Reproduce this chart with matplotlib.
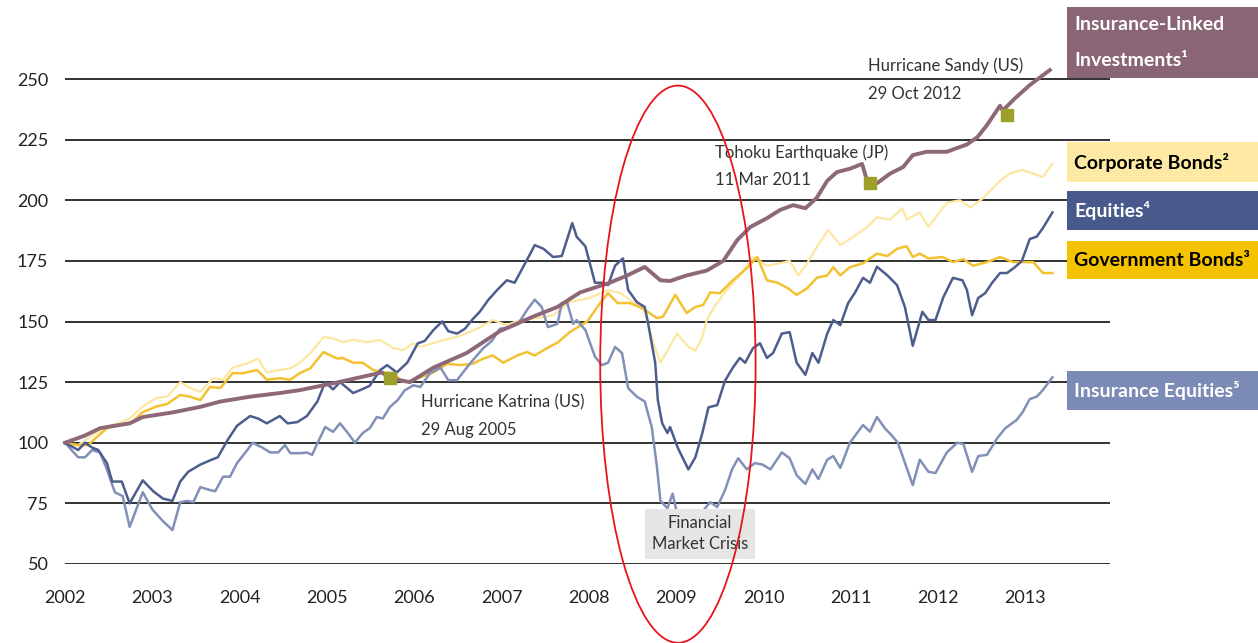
import matplotlib
matplotlib.use("Agg")
import matplotlib.pyplot as plt
from matplotlib.patches import Ellipse, Rectangle

plt.rcParams["font.family"] = ["Lato", "DejaVu Sans"]

YEAR_TICKS = list(range(2002, 2014))
Y_TICKS = [50, 75, 100, 125, 150, 175, 200, 225, 250]

# Equities (turning points)
eq_x = [2002.00, 2002.15, 2002.23, 2002.31, 2002.38, 2002.48, 2002.54, 2002.65, 2002.74, 2002.89,
        2003.01, 2003.12, 2003.23, 2003.32, 2003.41, 2003.55, 2003.68, 2003.75, 2003.86, 2003.97,
        2004.12, 2004.21, 2004.31, 2004.46, 2004.55, 2004.66, 2004.77, 2004.89, 2004.98,
        2005.07, 2005.15, 2005.30, 2005.40, 2005.49, 2005.61, 2005.69, 2005.80, 2005.92,
        2006.04, 2006.12, 2006.22, 2006.32, 2006.39, 2006.49, 2006.58, 2006.66, 2006.75, 2006.85, 2006.95,
        2007.06, 2007.15, 2007.27, 2007.38, 2007.48, 2007.59, 2007.69, 2007.81, 2007.86, 2007.96,
        2008.07, 2008.16, 2008.22, 2008.30, 2008.39, 2008.45, 2008.55, 2008.64, 2008.68, 2008.76,
        2008.79, 2008.84, 2008.90, 2008.93, 2009.02, 2009.14, 2009.22, 2009.30, 2009.37, 2009.47,
        2009.56, 2009.65, 2009.73, 2009.79, 2009.88, 2009.96, 2010.04, 2010.11, 2010.21, 2010.30,
        2010.38, 2010.48, 2010.56, 2010.63, 2010.73, 2010.80, 2010.88, 2010.97, 2011.05, 2011.14,
        2011.22, 2011.30, 2011.42, 2011.53, 2011.62, 2011.71, 2011.82, 2011.89, 2011.97,
        2012.06, 2012.17, 2012.28, 2012.33, 2012.39, 2012.46, 2012.54, 2012.62, 2012.71, 2012.79,
        2012.88, 2012.96, 2013.05, 2013.13, 2013.20, 2013.31]
eq_y = [100, 97, 100, 98, 97, 91.6, 84, 84, 75, 84.5,
        80, 77, 76, 84, 88, 91, 93, 94, 101, 107,
        111, 110, 108, 111, 108, 108.5, 111, 117, 125,
        122, 125, 120.5, 122, 123.5, 130, 132, 129, 133,
        141, 142, 146.5, 150, 146, 145, 147, 150.6, 154, 159, 163,
        167, 166, 174, 181.5, 180, 176.6, 177, 190.6, 185, 181,
        166, 166, 165, 173, 176, 163, 158, 156, 149, 133,
        117.6, 108, 104, 106.5, 97.8, 89, 94, 104, 114.6, 115.5,
        125.6, 131, 135, 133, 139, 141, 135, 137, 145, 145.6,
        133, 128, 137, 133, 145, 150.6, 148.5, 157.6, 162, 168,
        166, 172.6, 169, 165, 156, 140, 154, 150.6, 150.6,
        160, 168, 167, 163, 152.6, 159.7, 161.7, 166, 170, 170,
        172.4, 175, 184, 185, 188.5, 195]

# Insurance equities
ie_x = [2002.00, 2002.15, 2002.23, 2002.31, 2002.40, 2002.48, 2002.57, 2002.66, 2002.74, 2002.89,
        2003.00, 2003.12, 2003.23, 2003.32, 2003.40, 2003.47, 2003.55, 2003.66, 2003.72, 2003.81,
        2003.89, 2003.97, 2004.06, 2004.15, 2004.26, 2004.35, 2004.44, 2004.52, 2004.58, 2004.71,
        2004.77, 2004.83, 2004.92, 2004.98, 2005.07, 2005.15, 2005.24, 2005.32, 2005.41, 2005.49,
        2005.57, 2005.64, 2005.72, 2005.81, 2005.89, 2005.99, 2006.07, 2006.18, 2006.30, 2006.39,
        2006.49, 2006.58, 2006.67, 2006.79, 2006.89, 2006.98, 2007.10, 2007.19, 2007.29, 2007.38,
        2007.46, 2007.53, 2007.64, 2007.69, 2007.75, 2007.82, 2007.86, 2007.96, 2008.07, 2008.15,
        2008.22, 2008.30, 2008.38, 2008.45, 2008.55, 2008.64, 2008.72, 2008.78, 2008.82, 2008.90,
        2008.96, 2009.12, 2009.22, 2009.31, 2009.39, 2009.47, 2009.56, 2009.64, 2009.71, 2009.81,
        2009.90, 2009.99, 2010.08, 2010.21, 2010.30, 2010.38, 2010.48, 2010.56, 2010.63, 2010.73,
        2010.80, 2010.88, 2010.99, 2011.14, 2011.22, 2011.30, 2011.39, 2011.47, 2011.54, 2011.71,
        2011.79, 2011.89, 2011.97, 2012.10, 2012.22, 2012.29, 2012.39, 2012.46, 2012.56, 2012.68,
        2012.77, 2012.90, 2012.97, 2013.05, 2013.13, 2013.20, 2013.31]
ie_y = [100, 94, 94, 97, 96, 89, 79.6, 78, 65.3, 79.6,
        72.5, 67.7, 64, 75.5, 76, 75.5, 81.7, 80.5, 80, 86,
        86, 91.6, 95.7, 100, 98, 96, 96, 99, 95.7, 95.7,
        96, 95, 102, 106.5, 104.5, 108, 104, 100, 104, 106,
        110.6, 110, 114.7, 117.6, 121.6, 123.7, 123, 128.7, 131, 125.8,
        125.8, 130, 134, 139, 142, 147, 147.7, 149, 154.7, 159,
        156, 147.7, 149, 157.6, 158, 149, 150.6, 146.5, 135.5, 132,
        133, 139.5, 137, 122.5, 119, 117, 106.5, 90, 76, 73,
        79, 52.8, 64, 72, 75.5, 73.5, 80.5, 89, 93.6, 89,
        91.6, 91, 89, 96, 93.6, 86.6, 83, 89, 85, 93,
        94.5, 89.6, 100, 107.3, 104.6, 110.6, 106, 103, 100, 82.5,
        93, 88, 87.5, 96, 100, 99.5, 88, 94.5, 95, 102,
        106, 109.4, 112.7, 118, 119, 121.7, 127]

# Insurance-linked investments
ils_x = [2002.00, 2002.23, 2002.40, 2002.74, 2002.89, 2003.23, 2003.55, 2003.78, 2004.12, 2004.46,
         2004.69, 2005.07, 2005.63, 2005.72, 2005.95, 2006.22, 2006.60, 2006.98, 2007.36, 2007.64,
         2007.90, 2008.24, 2008.44, 2008.64, 2008.82, 2008.93, 2009.12, 2009.35, 2009.54, 2009.70,
         2009.85, 2010.04, 2010.19, 2010.34, 2010.48, 2010.61, 2010.73, 2010.84, 2010.99, 2011.13,
         2011.19, 2011.30, 2011.45, 2011.60, 2011.71, 2011.87, 2012.10, 2012.33, 2012.45, 2012.56,
         2012.71, 2012.74, 2012.88, 2013.05, 2013.28]
ils_y = [100, 103, 106, 108, 110.6, 112.5, 114.8, 117, 119, 120.5,
         121.7, 124.5, 129, 126.6, 125, 131, 137, 146, 152, 156,
         162, 166, 169, 172.5, 167, 166.7, 169, 171, 175, 183.6,
         189, 192.6, 196, 198, 196.7, 201, 208, 211.6, 213, 215,
         207.6, 207, 211, 213.7, 218.6, 220, 220, 223, 226, 231,
         239, 237, 242, 247.5, 253.7]

# Corporate bonds
cb_x = [2002.00, 2002.15, 2002.31, 2002.48, 2002.61, 2002.74, 2002.89, 2003.05, 2003.17, 2003.32,
        2003.43, 2003.55, 2003.70, 2003.81, 2003.92, 2004.08, 2004.21, 2004.31, 2004.46, 2004.58,
        2004.69, 2004.81, 2004.96, 2005.07, 2005.18, 2005.30, 2005.46, 2005.61, 2005.76, 2005.87,
        2005.99, 2006.07, 2006.30, 2006.52, 2006.72, 2006.90, 2007.06, 2007.21, 2007.41, 2007.59,
        2007.78, 2008.01, 2008.22, 2008.36, 2008.51, 2008.64, 2008.74, 2008.82, 2008.90, 2009.01,
        2009.14, 2009.22, 2009.30, 2009.35, 2009.45, 2009.58, 2009.73, 2009.88, 2010.04, 2010.19,
        2010.30, 2010.40, 2010.50, 2010.61, 2010.74, 2010.88, 2011.03, 2011.19, 2011.30, 2011.45,
        2011.59, 2011.64, 2011.79, 2011.89, 2012.10, 2012.25, 2012.37, 2012.52, 2012.71, 2012.82,
        2012.97, 2013.09, 2013.20, 2013.31]
cb_y = [100, 99, 103, 106.7, 108, 110, 115, 118.5, 119, 125,
        122.6, 121, 126.6, 126, 131, 132.6, 134.7, 129, 130, 130.7,
        133, 137, 143.6, 143, 141.5, 142.4, 141.5, 142.4, 139, 138.2,
        141, 139.5, 142, 144, 147, 150.6, 148.5, 150.6, 151.4, 152.6,
        158, 159.7, 163, 161.7, 158, 154, 141, 133, 138, 145,
        139.5, 138, 143.6, 150.6, 156.8, 163, 169, 176.6, 173, 174,
        175, 169, 174, 180.7, 187.7, 181.5, 185, 189, 193, 192,
        196.7, 192, 195, 189, 199, 200, 197, 201, 208, 211,
        212.5, 211, 209.6, 215]

# Government bonds
gb_x = [2002.00, 2002.15, 2002.26, 2002.48, 2002.60, 2002.77, 2002.89, 2003.05, 2003.17, 2003.32,
        2003.43, 2003.55, 2003.66, 2003.78, 2003.92, 2004.04, 2004.20, 2004.31, 2004.46, 2004.58,
        2004.69, 2004.81, 2004.96, 2005.04, 2005.12, 2005.18, 2005.30, 2005.41, 2005.53, 2005.64,
        2005.76, 2005.87, 2005.99, 2006.07, 2006.22, 2006.38, 2006.52, 2006.67, 2006.79, 2006.90,
        2007.02, 2007.18, 2007.29, 2007.38, 2007.52, 2007.65, 2007.78, 2007.98, 2008.13, 2008.22,
        2008.33, 2008.47, 2008.61, 2008.78, 2008.85, 2008.99, 2009.12, 2009.22, 2009.31, 2009.39,
        2009.50, 2009.65, 2009.81, 2009.93, 2010.04, 2010.16, 2010.28, 2010.38, 2010.50, 2010.61,
        2010.73, 2010.80, 2010.88, 2010.99, 2011.14, 2011.30, 2011.42, 2011.53, 2011.64, 2011.71,
        2011.79, 2011.89, 2012.05, 2012.17, 2012.29, 2012.40, 2012.56, 2012.71, 2012.86, 2013.09,
        2013.20, 2013.31]
gb_y = [100, 99, 99, 106, 107, 108.5, 112.6, 115, 116, 119.7,
        119, 117.6, 123, 122.6, 128.7, 128.7, 130, 126, 126.6, 126,
        128.7, 130.7, 137.4, 136, 134.7, 135, 133, 133, 130, 129,
        128.7, 125, 125.8, 127, 129, 132.6, 132, 132.6, 134.7, 136,
        133, 136, 137.4, 136, 139, 141.5, 145.6, 150, 157.6, 161.7,
        157.6, 157.6, 155.6, 151.4, 152, 161, 153.5, 156, 156.8, 162,
        161.7, 167, 172, 176.6, 167, 166, 163.7, 161, 163.7, 168,
        169, 172.4, 169, 172.4, 174, 178, 177, 180, 181, 176.6,
        178, 176, 176.6, 174.5, 175.7, 173, 174.5, 176.6, 174.5, 174.5,
        170, 170]

EVENT_X = [2005.72, 2011.22, 2012.79]
EVENT_Y = [126.7, 207, 235]

C_ILS = "#8a6575"
C_CORP = "#fde9a3"
C_EQ = "#485a8c"
C_GOV = "#f5c200"
C_IEQ = "#7c8bb5"
C_MARK = "#9e9f2a"
C_TEXT = "#333333"

fig = plt.figure(figsize=(12.58, 6.43), dpi=100)
ax = fig.add_axes([0.0517, 0.1229, 0.8307, 0.7919])
ax.set_xlim(2002, 2013.97)
ax.set_ylim(50, 260)

for v in Y_TICKS:
    ax.axhline(v, color="#222222", lw=1.3, zorder=1)

ax.plot(cb_x, cb_y, color="#fde7a0", lw=1.6, zorder=2)
ax.plot(gb_x, gb_y, color="#f2c232", lw=1.8, zorder=3)
ax.plot(ie_x, ie_y, color="#8290b8", lw=1.8, zorder=4)
ax.plot(eq_x, eq_y, color="#4d5d8d", lw=1.8, zorder=5)
ax.plot(ils_x, ils_y, color="#8d6878", lw=2.8, zorder=6, clip_on=False)
ax.plot(EVENT_X, EVENT_Y, ls="none", marker="s", ms=9, color=C_MARK, zorder=7)

for s in ax.spines.values():
    s.set_visible(False)
ax.set_xticks(YEAR_TICKS)
ax.set_xticklabels([str(y) for y in YEAR_TICKS], fontsize=13, color="#222222")
ax.set_yticks(Y_TICKS)
ax.set_yticklabels([str(v) for v in Y_TICKS], fontsize=13, color="#222222")
ax.tick_params(axis="x", length=0, pad=19)
ax.tick_params(axis="y", length=0, pad=12)

# annotations
ax.text(2011.20, 255.4, "Hurricane Sandy (US)", fontsize=12, color=C_TEXT, va="center")
ax.text(2011.20, 243.8, "29 Oct 2012", fontsize=12, color=C_TEXT, va="center")
ax.text(2009.45, 219.5, "Tohoku Earthquake (JP)", fontsize=12, color=C_TEXT, va="center")
ax.text(2009.45, 208.3, "11 Mar 2011", fontsize=12, color=C_TEXT, va="center")
ax.text(2006.08, 116.7, "Hurricane Katrina (US)", fontsize=12, color=C_TEXT, va="center")
ax.text(2006.08, 105.2, "29 Aug 2005", fontsize=12, color=C_TEXT, va="center")
ax.text(2009.27, 62.5, "Financial\nMarket Crisis", fontsize=12, color=C_TEXT,
        ha="center", va="center", linespacing=1.35, zorder=9,
        bbox=dict(boxstyle="square,pad=0.4", fc="#e6e6e6", ec="none"))

ax.add_patch(Ellipse((2009.02, 132.4), 1.78, 229.8, fill=False, ec="#e8141c",
                     lw=1.3, zorder=10, clip_on=False))

# right-hand labels
W, H = 1258.0, 643.0
labels = [
    (7, 78, C_ILS, "white", ["Insurance-Linked", "Investments\u00b9"]),
    (142, 182, C_CORP, "black", ["Corporate Bonds\u00b2"]),
    (191, 230, C_EQ, "white", ["Equities\u2074"]),
    (241, 279, C_GOV, "black", ["Government Bonds\u00b3"]),
    (371, 410, C_IEQ, "white", ["Insurance Equities\u2075"]),
]
for top, bot, fc, tc, lines in labels:
    fig.patches.append(Rectangle((1067 / W, 1 - bot / H), (W - 1067) / W, (bot - top) / H,
                                 transform=fig.transFigure, fc=fc, ec="none"))
    n = len(lines)
    for i, line in enumerate(lines):
        yc = top + (bot - top) * (i + 0.5) / n
        fig.text(1074 / W, 1 - yc / H, line, color=tc, fontsize=14, fontweight="bold",
                 va="center", ha="left")

fig.savefig("out.png", dpi=100)
